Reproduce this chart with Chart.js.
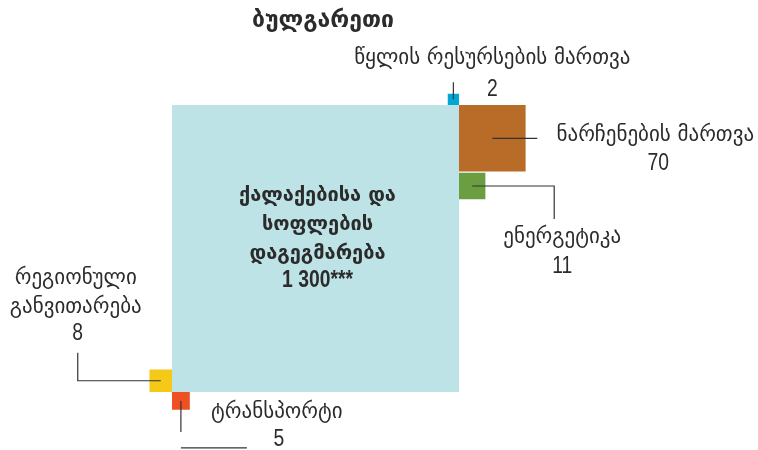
<!DOCTYPE html>
<html>
<head>
<meta charset="UTF-8">
<script src="https://cdn.jsdelivr.net/npm/chart.js@4/dist/chart.umd.min.js"></script>
<style>
  html, body { margin: 0; padding: 0; background: #fff; }
  #wrap { width: 758px; height: 450px; }
</style>
</head>
<body>
<div id="wrap"><canvas id="chart"></canvas></div>
<script>
// Datos
const chartTitle = 'ბულგარეთი';
const categories = [
  ['ქალაქებისა და', 'სოფლების', 'დაგეგმარება'],
  ['წყლის რესურსების მართვა'],
  ['ნარჩენების მართვა'],
  ['ენერგეტიკა'],
  ['რეგიონული', 'განვითარება'],
  ['ტრანსპორტი']
];
const values = [1300, 2, 70, 11, 8, 5];
const valueLabels = ['1 300***', '2', '70', '11', '8', '5'];
const colors = ['#bde3e6', '#00a8d4', '#b96b28', '#6b9d41', '#f5c918', '#ef5023'];

// Lado de cada cuadrado (área proporcional al valor)
const side = v => Math.sqrt(v);
const B = side(values[0]);
const gap = 0.15;

// Rectángulo [x0, y0, x1, y1] en unidades de la escala
function boxFor(i) {
  const s = side(values[i]);
  switch (i) {
    case 0: return [0, 0, B, B];
    case 1: return [B - s, B, B, B + s];
    case 2: return [B, B - s, B + s, B];
    case 3: {
      const s2 = side(values[2]);
      return [B, B - s2 - gap - s, B + s, B - s2 - gap];
    }
    case 4: return [-s, 0, 0, s];
    case 5: return [0, -s, s, 0];
  }
}

const datasets = values.map((v, i) => {
  const [x0, y0, x1, y1] = boxFor(i);
  return {
    label: categories[i].join(' '),
    data: [{x: x0, y: y0}, {x: x1, y: y0}, {x: x1, y: y1}, {x: x0, y: y1}, {x: x0, y: y0}],
    showLine: true,
    fill: 'shape',
    backgroundColor: colors[i],
    borderWidth: 0,
    pointRadius: 0,
    tension: 0
  };
});

// Escala: píxeles por unidad
const k = 287 / B;
const left0 = 172, base0 = 392;

// Etiquetas: posición relativa al centro del cuadrado (px)
const labelLayout = [
  null,
  {text: [[39, -41]], value: [39, -10], lines: [[[0, 0], [0, -17]]]},
  {text: [[163, -3]], value: [166, 25], lines: [[[0, 0], [45, 0]]]},
  {text: [[90, 52]], value: [90, 81], lines: [[[0, 0], [82, 0], [82, 33]]]},
  {text: [[-85, -102], [-85, -73]], value: [-83, -47], lines: [[[0, 0], [-83, 0], [-83, -28]]]},
  {text: [[96, 12]], value: [98, 39], lines: [[[0, 0], [0, 31]], [[0, 47], [66, 47]]]}
];

// Números estrechos
function narrowText(ctx, t, x, y, font) {
  ctx.save();
  ctx.font = font;
  ctx.translate(x, y);
  ctx.scale(0.84, 1);
  ctx.fillText(t, 0, 0);
  ctx.restore();
}

const labelsPlugin = {
  id: 'labels',
  afterDatasetsDraw(chart) {
    const {ctx, scales: {x, y}} = chart;
    ctx.save();
    ctx.textAlign = 'center';
    ctx.textBaseline = 'middle';
    ctx.fillStyle = '#2b2b2b';

    // título
    ctx.font = 'bold 23px "DejaVu Sans"';
    ctx.fillText(chartTitle, 323, 21);

    values.forEach((v, i) => {
      const [x0, y0, x1, y1] = boxFor(i);
      const cx = x.getPixelForValue((x0 + x1) / 2);
      const cy = y.getPixelForValue((y0 + y1) / 2);
      const L = labelLayout[i];
      if (!L) {
        ctx.font = 'bold 20px "DejaVu Sans"';
        categories[i].forEach((t, j) => ctx.fillText(t, cx + 2, cy - 53 + j * 29));
        narrowText(ctx, valueLabels[i], cx + 2, cy + 32, 'bold 23px "Liberation Sans"');
        return;
      }
      ctx.strokeStyle = '#333';
      ctx.lineWidth = 1.2;
      L.lines.forEach(pts => {
        ctx.beginPath();
        pts.forEach(([dx, dy], j) => j ? ctx.lineTo(cx + dx, cy + dy) : ctx.moveTo(cx + dx, cy + dy));
        ctx.stroke();
      });
      ctx.font = '21px "DejaVu Sans"';
      categories[i].forEach((t, j) => ctx.fillText(t, cx + L.text[j][0], cy + L.text[j][1]));
      narrowText(ctx, valueLabels[i], cx + L.value[0], cy + L.value[1], '23px "Liberation Sans"');
    });
    ctx.restore();
  }
};

new Chart(document.getElementById('chart'), {
  type: 'scatter',
  data: { datasets },
  options: {
    responsive: true,
    maintainAspectRatio: false,
    animation: false,
    layout: { padding: 0 },
    plugins: { legend: { display: false }, tooltip: { enabled: false } },
    scales: {
      x: { type: 'linear', display: false, min: -left0 / k, max: (758 - left0) / k },
      y: { type: 'linear', display: false, min: -(450 - base0) / k, max: base0 / k }
    }
  },
  plugins: [labelsPlugin]
});
</script>
</body>
</html>
